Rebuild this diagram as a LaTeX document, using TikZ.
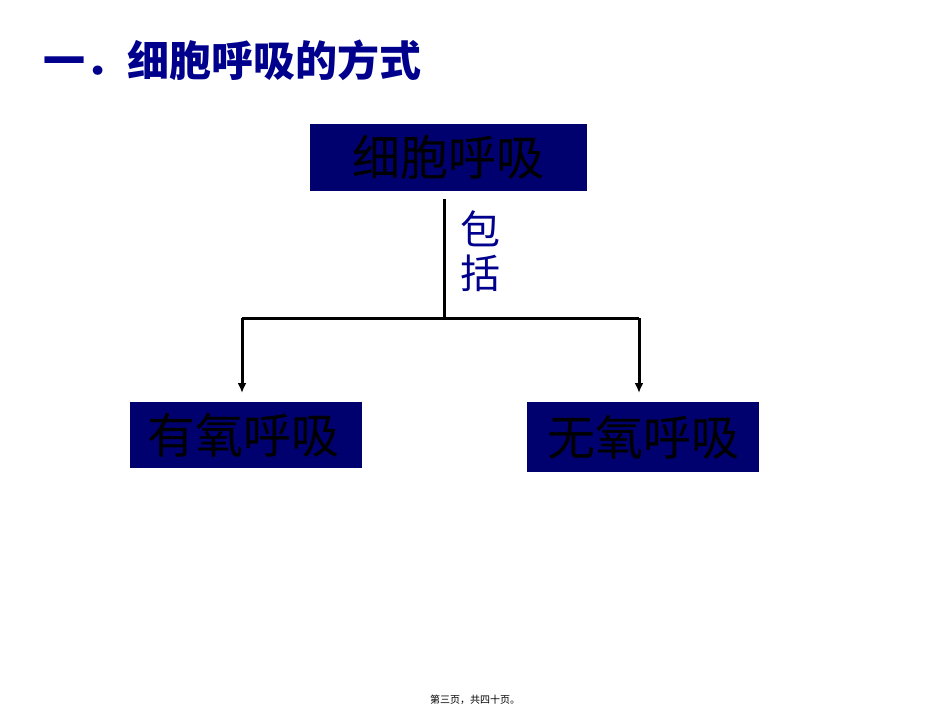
\documentclass[tikz,border=0pt]{standalone}
\usepackage{fontspec}
\usetikzlibrary{arrows.meta}
\newfontfamily\cjk{Noto Sans CJK SC}
\definecolor{navy}{RGB}{0,0,110}
\definecolor{tblue}{RGB}{0,0,140}
\begin{document}
\begin{tikzpicture}[x=1pt,y=-1pt,
  box/.style={draw=none,fill=navy,anchor=north west,inner sep=0pt},
  lbl/.style={font=\cjk\fontsize{48}{50}\selectfont,text=black},
  conn/.style={line width=3pt},
  arr/.style={line width=3pt,-{Latex[length=10pt,width=9pt]}}]
\useasboundingbox (0,0) rectangle (950,713);
\node[box,minimum width=277pt,minimum height=67pt] (top) at (310,124) {};
\node[lbl] at (top.center) {细胞呼吸};
\node[box,minimum width=232pt,minimum height=66pt] (l) at (130,402) {};
\node[lbl] at ([xshift=-3pt]l.center) {有氧呼吸};
\node[box,minimum width=232pt,minimum height=70pt] (r) at (527,402) {};
\node[lbl] at (r.center) {无氧呼吸};
\node[font=\cjk\bfseries\fontsize{42}{44}\selectfont,text=tblue,anchor=west] (title) at (40,60) {一．细胞呼吸的方式};
\node[font=\cjk\fontsize{40}{44}\selectfont,text=tblue,align=center] (bk) at (480,251) {包\\括};
\coordinate (j) at (444,318);
\coordinate (s) at (444,199);
\coordinate (jl) at (242,318);
\coordinate (jr) at (639,318);
\coordinate (el) at (242,393);
\coordinate (er) at (639,393);
\draw[conn] (s) -- (j);
\draw[conn] (jl) -- (jr);
\draw[arr] (jl) -- (el);
\draw[arr] (jr) -- (er);
\node[font=\cjk\fontsize{10}{12}\selectfont] (foot) at (475,700) {第三页，共四十页。};
\end{tikzpicture}
\end{document}
